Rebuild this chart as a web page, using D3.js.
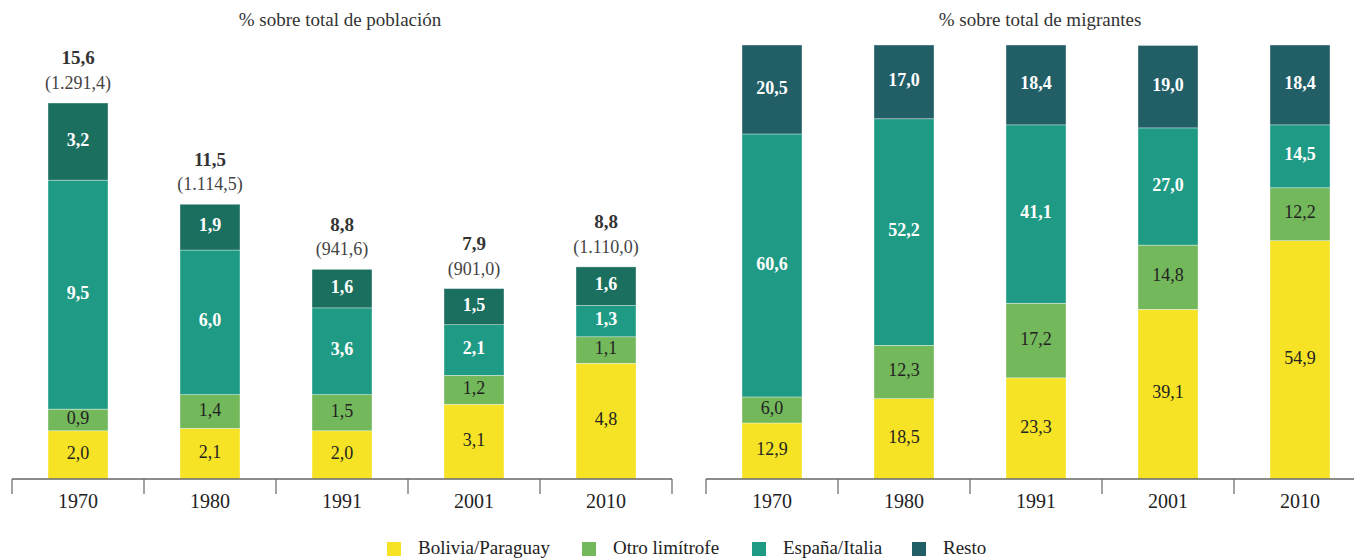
<!DOCTYPE html>
<html>
<head>
<meta charset="utf-8">
<script src="https://cdn.jsdelivr.net/npm/d3@7"></script>
<style>
  body { margin: 0; background: #fff; }
</style>
</head>
<body>
<div class="canvas"></div>
<script>
const years = ['1970', '1980', '1991', '2001', '2010'];
const groups = ['Bolivia/Paraguay', 'Otro limítrofe', 'España/Italia', 'Resto'];

// % sobre total de población
const popBolivia = [2.0, 2.1, 2.0, 3.1, 4.8];
const popOtro    = [0.9, 1.4, 1.5, 1.2, 1.1];
const popEspana  = [9.5, 6.0, 3.6, 2.1, 1.3];
const popResto   = [3.2, 1.9, 1.6, 1.5, 1.6];
const popTotal   = ['15,6', '11,5', '8,8', '7,9', '8,8'];
const popMiles   = ['(1.291,4)', '(1.114,5)', '(941,6)', '(901,0)', '(1.110,0)'];

// % sobre total de migrantes
const migBolivia = [12.9, 18.5, 23.3, 39.1, 54.9];
const migOtro    = [6.0, 12.3, 17.2, 14.8, 12.2];
const migEspana  = [60.6, 52.2, 41.1, 27.0, 14.5];
const migResto   = [20.5, 17.0, 18.4, 19.0, 18.4];

const dims = { width: 1354, height: 559, base: 479 };
const fmt = v => d3.format('.1f')(v).replace('.', ',');
const serif = "'Liberation Serif', 'Times New Roman', serif";

const svg = d3.select('.canvas')
    .append('svg')
    .attr('width', dims.width)
    .attr('height', dims.height)
    .attr('font-family', serif);

const stack = d3.stack().keys(groups);

const toRows = (a, b, c, d) => years.map((y, i) => ({
    year: y, 'Bolivia/Paraguay': a[i], 'Otro limítrofe': b[i], 'España/Italia': c[i], 'Resto': d[i]
}));

const textColour = ['#222', '#222', '#fff', '#fff'];
const textWeight = ['normal', 'normal', 'bold', 'bold'];

const drawPanel = (opts) => {
    const x = d3.scaleBand()
        .domain(years)
        .range(opts.xRange)
        .paddingInner(72 / 132)
        .paddingOuter(36 / 132);

    const y = d3.scaleLinear()
        .domain([0, opts.yMax])
        .range([dims.base, opts.yTop]);

    const colour = d3.scaleOrdinal()
        .domain(groups)
        .range(opts.colours);

    const g = svg.append('g');

    // title
    g.append('text')
        .attr('x', opts.titleX)
        .attr('y', 22)
        .attr('text-anchor', 'middle')
        .attr('dominant-baseline', 'middle')
        .attr('font-size', 19)
        .attr('fill', '#333')
        .text(opts.title);

    const series = stack(opts.rows);

    const layer = g.selectAll('g.layer')
        .data(series)
        .enter().append('g')
            .attr('class', 'layer');

    layer.selectAll('rect')
        .data(s => s.map(d => ({ d, key: s.key, idx: s.index })))
        .enter().append('rect')
            .attr('x', p => x(p.d.data.year))
            .attr('width', x.bandwidth())
            .attr('y', p => y(p.d[1]))
            .attr('height', p => y(p.d[0]) - y(p.d[1]))
            .attr('fill', p => colour(p.key))
            .attr('stroke', 'rgba(255,255,255,0.6)')
            .attr('stroke-width', 0.6);

    layer.selectAll('text')
        .data(s => s.map(d => ({ d, key: s.key, idx: s.index })))
        .enter().append('text')
            .attr('x', p => x(p.d.data.year) + x.bandwidth() / 2)
            .attr('y', p => (y(p.d[0]) + y(p.d[1])) / 2)
            .attr('text-anchor', 'middle')
            .attr('dominant-baseline', 'middle')
            .attr('font-size', 18)
            .attr('fill', p => textColour[p.idx])
            .attr('font-weight', p => textWeight[p.idx])
            .text(p => fmt(p.d[1] - p.d[0]));

    // totals above bars (left panel only)
    if (opts.totals) {
        const tops = series[series.length - 1];
        g.selectAll('text.total')
            .data(tops)
            .enter().append('text')
                .attr('class', 'total')
                .attr('x', d => x(d.data.year) + x.bandwidth() / 2)
                .attr('y', d => y(d[1]) - 43)
                .attr('text-anchor', 'middle')
                .attr('dominant-baseline', 'middle')
                .attr('font-size', 19)
                .attr('font-weight', 'bold')
                .attr('fill', '#333')
                .text((d, i) => opts.totals[i]);
        g.selectAll('text.miles')
            .data(tops)
            .enter().append('text')
                .attr('class', 'miles')
                .attr('x', d => x(d.data.year) + x.bandwidth() / 2)
                .attr('y', d => y(d[1]) - 18)
                .attr('text-anchor', 'middle')
                .attr('dominant-baseline', 'middle')
                .attr('font-size', 18)
                .attr('fill', '#444')
                .text((d, i) => opts.miles[i]);
    }

    // axis: line with ticks at band boundaries, year labels centred
    const axis = g.append('g')
        .attr('transform', `translate(0, ${dims.base})`);

    axis.append('line')
        .attr('x1', opts.xRange[0])
        .attr('x2', Math.min(opts.xRange[1], dims.width))
        .attr('stroke', '#666')
        .attr('stroke-width', 1.5);

    const bounds = d3.range(years.length + 1).map(i => opts.xRange[0] + i * x.step());
    axis.selectAll('line.tick')
        .data(bounds)
        .enter().append('line')
            .attr('class', 'tick')
            .attr('x1', d => d).attr('x2', d => d)
            .attr('y1', 0).attr('y2', 15)
            .attr('stroke', '#666')
            .attr('stroke-width', 1.2);

    axis.selectAll('text.year')
        .data(years)
        .enter().append('text')
            .attr('class', 'year')
            .attr('x', d => x(d) + x.bandwidth() / 2)
            .attr('y', 24)
            .attr('text-anchor', 'middle')
            .attr('dominant-baseline', 'middle')
            .attr('font-size', 20)
            .attr('fill', '#222')
            .text(d => d);
};

drawPanel({
    rows: toRows(popBolivia, popOtro, popEspana, popResto),
    xRange: [12, 672],
    yMax: 15.6, yTop: 103,
    colours: ['#f6e325', '#74b85c', '#1f9a84', '#1b6f5f'],
    title: '% sobre total de población', titleX: 340,
    totals: popTotal, miles: popMiles
});

drawPanel({
    rows: toRows(migBolivia, migOtro, migEspana, migResto),
    xRange: [706, 1366],
    yMax: 100, yTop: 45,
    colours: ['#f6e325', '#74b85c', '#1f9a84', '#215e66'],
    title: '% sobre total de migrantes', titleX: 1040
});

// legend
const legendColours = ['#f6e325', '#74b85c', '#1f9a84', '#215e66'];
const legendX = [387, 582, 752, 912];
const legend = svg.append('g')
    .attr('transform', 'translate(0, 549)');

const item = legend.selectAll('g')
    .data(groups)
    .enter().append('g')
        .attr('transform', (d, i) => `translate(${legendX[i]}, 0)`);

item.append('rect')
    .attr('x', 0).attr('y', -7)
    .attr('width', 14).attr('height', 14)
    .attr('fill', (d, i) => legendColours[i]);

item.append('text')
    .attr('x', 31)
    .attr('y', 1)
    .attr('dominant-baseline', 'middle')
    .attr('font-size', 19)
    .attr('fill', '#222')
    .text(d => d);
</script>
</body>
</html>
